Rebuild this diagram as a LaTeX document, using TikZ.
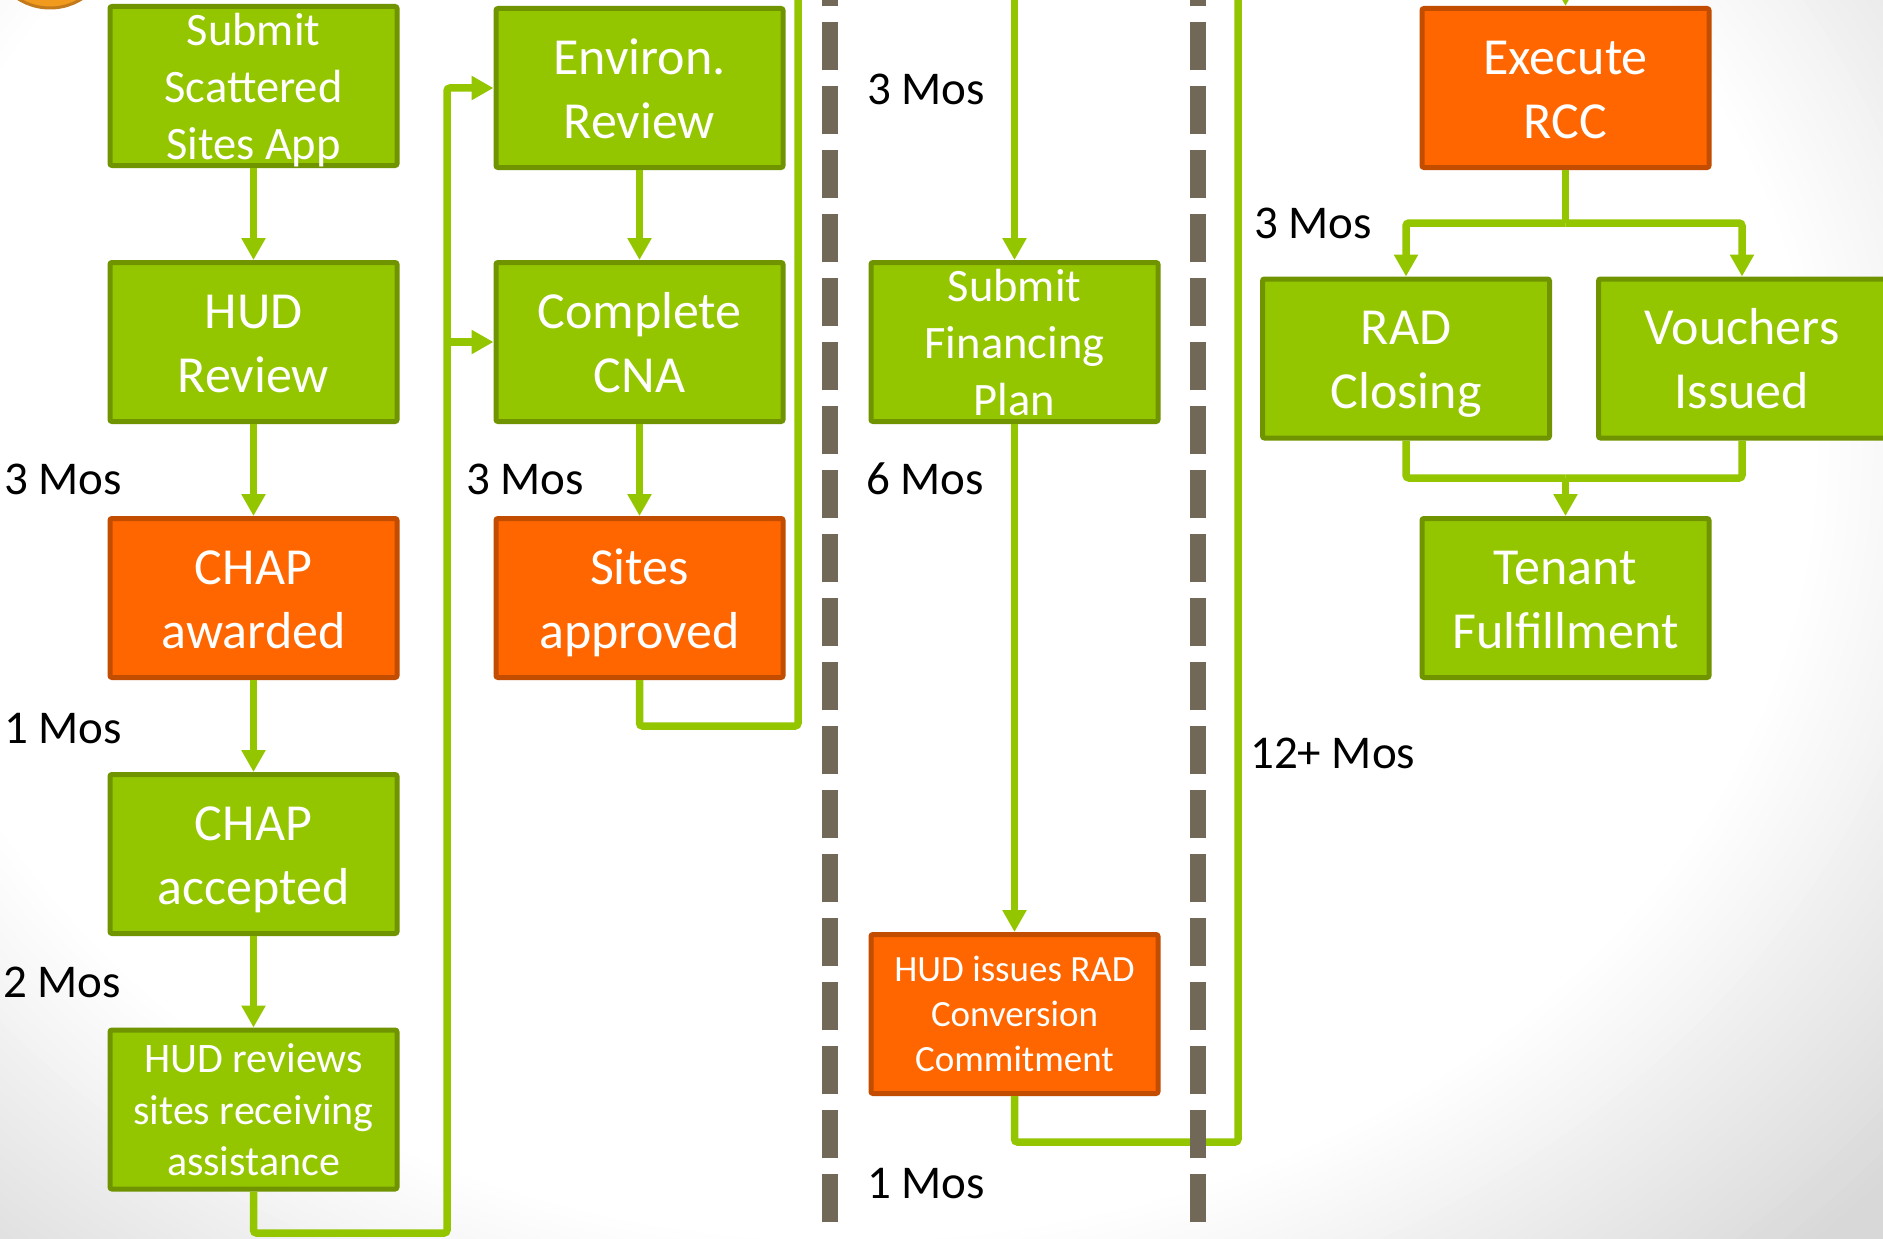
\documentclass[tikz,border=0pt]{standalone}
\usepackage{fontspec}
\setmainfont{Carlito}
\usetikzlibrary{arrows.meta}
\definecolor{gfill}{HTML}{94C600}
\definecolor{gline}{HTML}{6F9400}
\definecolor{ofill}{HTML}{FF6600}
\definecolor{oline}{HTML}{C24C00}
\definecolor{gconn}{HTML}{94C600}
\definecolor{sepc}{HTML}{716858}
\definecolor{bgg}{HTML}{D8D8D8}
\definecolor{circf}{HTML}{F29A1E}
\definecolor{circd}{HTML}{C27A1A}
\newcommand\bl[1]{\rule[-0.1em]{0pt}{0.9em}\smash{#1}}
\begin{document}
\begin{tikzpicture}[x=1pt,y=-1pt,
  box/.style={draw=gline, fill=gfill, line width=5pt, rounded corners=2pt, minimum width=287pt, minimum height=159pt, inner sep=0pt, text=white, align=center},
  obox/.style={box, draw=oline, fill=ofill},
  fbig/.style={font=\fontsize{52}{64}\selectfont},
  fmid/.style={font=\fontsize{46.5}{57}\selectfont},
  fsm/.style={font=\fontsize{42}{51.5}\selectfont},
  fxs/.style={font=\fontsize{37}{45}\selectfont},
  dur/.style={font=\fontsize{47}{57}\selectfont, anchor=base west, inner sep=0pt, text=black},
  conn/.style={draw=gconn, line width=7.5pt, rounded corners=3pt},
  arr/.style={conn, -{Triangle[length=22pt,width=23pt]}},
  sepl/.style={draw=sepc, line width=16pt, dash pattern=on 48pt off 16pt}
]
\useasboundingbox (0,0) rectangle (1883,1239);
\clip (0,0) rectangle (1883,1239);
% background vignette: white centre, grey towards the corners
\fill[bgg] (0,0) rectangle (1883,1239);
\foreach \s in {140,139,...,88}{
  \pgfmathtruncatemacro\p{min(100,max(0,(\s-88)*2.7))}
  \fill[bgg!\p!white] (850,450) ellipse ({\s*11pt} and {\s*9pt});
}
% partial circle top-left
\draw[circd, fill=circf, line width=3pt] (50,-52) circle (60pt);

% boxes column 1
\node[box, fmid] (subscat) at (253.5,86) {\bl{Submit}\\\bl{Scattered}\\\bl{Sites App}};
\node[box, fbig] (hudrev) at (253.5,342) {\bl{HUD}\\\bl{Review}};
\node[obox, fbig] (chapaw) at (253.5,598) {\bl{CHAP}\\\bl{awarded}};
\node[box, fbig] (chapac) at (253.5,854) {\bl{CHAP}\\\bl{accepted}};
\node[box, fsm] (hudsites) at (253.5,1109.5) {\bl{HUD reviews}\\\bl{sites receiving}\\\bl{assistance}};
% column 2
\node[box, fbig] (environ) at (639.5,88) {\bl{Environ.}\\\bl{Review}};
\node[box, fbig] (cna) at (639.5,342) {\bl{Complete}\\\bl{CNA}};
\node[obox, fbig] (sites) at (639.5,598) {\bl{Sites}\\\bl{approved}};
% column 3
\node[box, fmid] (sfp) at (1014.5,342) {\bl{Submit}\\\bl{Financing}\\\bl{Plan}};
\node[obox, fxs] (hudissue) at (1014.5,1014) {\bl{HUD issues RAD}\\\bl{Conversion}\\\bl{Commitment}};
% column 4
\node[obox, fbig] (exec) at (1565.5,88) {\bl{Execute}\\\bl{RCC}};
\node[box, fbig] (rad) at (1406,358.5) {\bl{RAD}\\\bl{Closing}};
\node[box, fbig] (vouch) at (1742,358.5) {\bl{Vouchers}\\\bl{Issued}};
\node[box, fbig] (tenant) at (1565.5,598) {\bl{Tenant}\\\bl{Fulfillment}};

% coordinates for connector bends and free ends
\coordinate (loopA) at (447,1233);
\coordinate (brA) at (447,342);
\coordinate (sitesturn) at (798,726);
\coordinate (topA) at (798,-20);
\coordinate (topB) at (1014.5,-20);
\coordinate (turnC) at (1238,1142);
\coordinate (topC) at (1238,-20);
\coordinate (topD) at (1565.5,-60);
\coordinate (splitE) at (1565.5,223);
\coordinate (mergeF) at (1565.5,478);

% connectors column 1
\draw[arr] (subscat.south) -- (hudrev.north);
\draw[arr] (hudrev.south) -- (chapaw.north);
\draw[arr] (chapaw.south) -- (chapac.north);
\draw[arr] (chapac.south) -- (hudsites.north);
\draw[arr] (hudsites.south) |- (loopA) |- (environ.west);
\draw[arr] (brA) -- (cna.west);
% column 2
\draw[arr] (environ.south) -- (cna.north);
\draw[arr] (cna.south) -- (sites.north);
\draw[conn] (sites.south) |- (sitesturn) -- (topA);
% column 3
\draw[arr] (topB) -- (sfp.north);
\draw[arr] (sfp.south) -- (hudissue.north);
\draw[conn] (hudissue.south) |- (turnC) -- (topC);
% column 4
\draw[arr] (topD) -- (exec.north);
\draw[conn] (exec.south) -- (splitE);
\draw[arr] (splitE) -| (rad.north);
\draw[arr] (splitE) -| (vouch.north);
\draw[conn] (rad.south) |- (mergeF);
\draw[conn] (vouch.south) |- (mergeF);
\draw[arr] (mergeF) -- (tenant.north);

% dashed separators
\draw[sepl] (830,-42) -- (830,1222);
\draw[sepl] (1198,-42) -- (1198,1222);

% duration labels
\node[dur] (d1) at (4,494) {3 Mos};
\node[dur] (d2) at (4,743) {1 Mos};
\node[dur] (d3) at (3,997) {2 Mos};
\node[dur] (d4) at (466,494) {3 Mos};
\node[dur] (d5) at (867,104) {3 Mos};
\node[dur] (d6) at (866,494) {6 Mos};
\node[dur] (d7) at (867,1198) {1 Mos};
\node[dur] (d8) at (1254,238) {3 Mos};
\node[dur] (d9) at (1250,768) {12+ Mos};
\end{tikzpicture}
\end{document}
